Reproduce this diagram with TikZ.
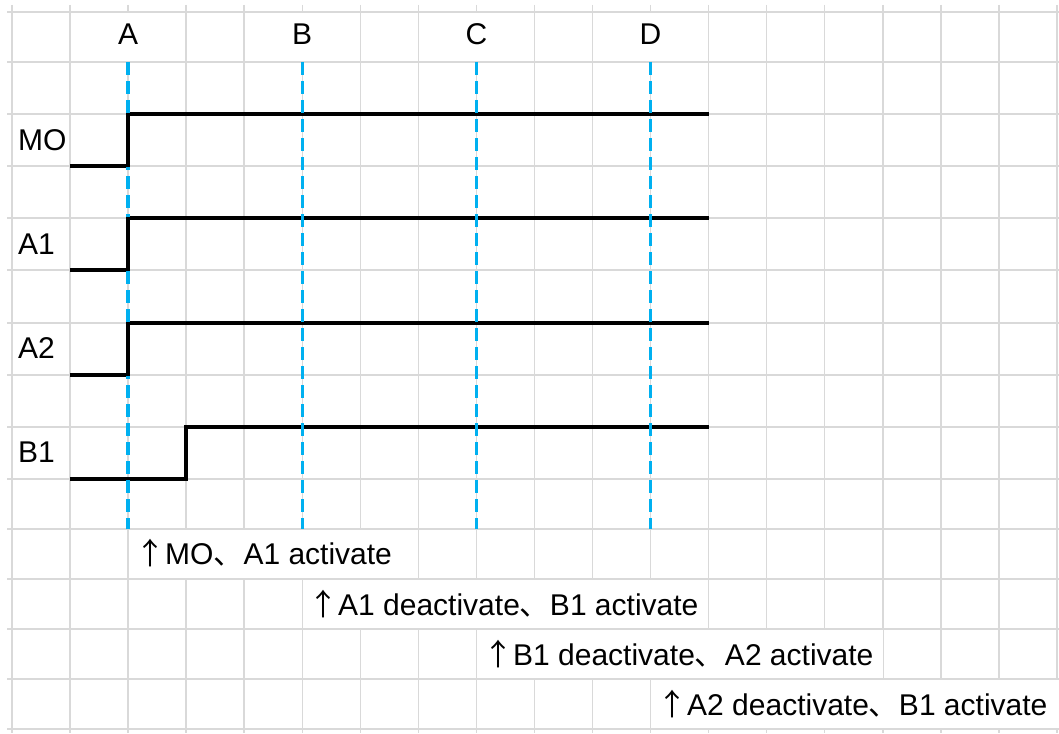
\documentclass[tikz,border=0pt]{standalone}
\usepackage{fontspec}
\setmainfont{Liberation Sans}
\newfontfamily\jpfont{Noto Sans CJK JP}
\definecolor{gridgray}{RGB}{217,217,217}
\definecolor{markblue}{RGB}{0,176,240}
\newcommand{\uparrowjp}{{\jpfont ↑}}
\newcommand{\commajp}{{\jpfont 、}}
\usetikzlibrary{positioning}

\begin{document}
\begin{tikzpicture}[x=1pt, y=-1pt, every node/.style={font=\fontsize{30}{36}\selectfont, inner sep=0pt},
    gridline/.style={gridgray, line width=1.5pt},
    signal/.style={black, line width=3.4pt},
    marker/.style={markblue, line width=3.4pt, dash pattern=on 13pt off 6pt}]
    % Sheet
    \fill[white] (0,0) rectangle (1059,733);
    \useasboundingbox (0,0) rectangle (1059,733);
    \foreach \k in {0,...,18}
        \draw[gridline] ({12+58.05*\k},5) -- ({12+58.05*\k},733);
    \foreach \y in {12,62,114,166,218,270,323,375,427,479,529,579,629,679,729}
        \draw[gridline] (7,\y) -- (1059,\y);
    
    % Cells without borders
    \foreach \k in {2,5,8,11}
        \fill[white] ({12+58.05*\k-12},13) rectangle ({12+58.05*\k+12},61);
    \fill[white] (129,530) rectangle (417.5,578);
    \fill[white] (303,580) rectangle (708,628);
    \fill[white] (477,630) rectangle (882.5,678);
    \fill[white] (651.5,680) rectangle (1059,728);
    
    % Time points
    \foreach \k/\name in {2/A,5/B,8/C,11/D}
        \node[anchor=base] (hdr\name) at ({12+58.05*\k},45) {\name};
    
    % Signal names
    \node[anchor=base west] (lblMO) at (18,150) {MO};
    \node[anchor=base west] (lblAa) at (18,254) {A1};
    \node[anchor=base west] (lblAb) at (18,358) {A2};
    \node[anchor=base west] (lblBa) at (18,462) {B1};
    
    % Signals
    \draw[signal] (70,166) -- (128,166) -- (128,114) -- (709,114);
    \draw[signal] (70,270) -- (128,270) -- (128,218) -- (709,218);
    \draw[signal] (70,375) -- (128,375) -- (128,323) -- (709,323);
    \draw[signal] (70,479) -- (186,479) -- (186,427) -- (709,427);
    
    % Markers
    \foreach \k in {2,5,8,11}
        \draw[marker] ({12+58.05*\k},62) -- ({12+58.05*\k},529);
    \draw[signal] (128.1,167) -- (128.1,113);
    \draw[signal] (128.1,271) -- (128.1,217);
    \draw[signal] (128.1,376) -- (128.1,322);
    
    % Notes
    \node[anchor=base west] (note1) at (135,564) {\uparrowjp MO\commajp A1 activate};
    \node[anchor=base west] (note2) at (308,615) {\uparrowjp A1 deactivate\commajp B1 activate};
    \node[anchor=base west] (note3) at (483,665) {\uparrowjp B1 deactivate\commajp A2 activate};
    \node[anchor=base west] (note4) at (657,715) {\uparrowjp A2 deactivate\commajp B1 activate};
\end{tikzpicture}
\end{document}
